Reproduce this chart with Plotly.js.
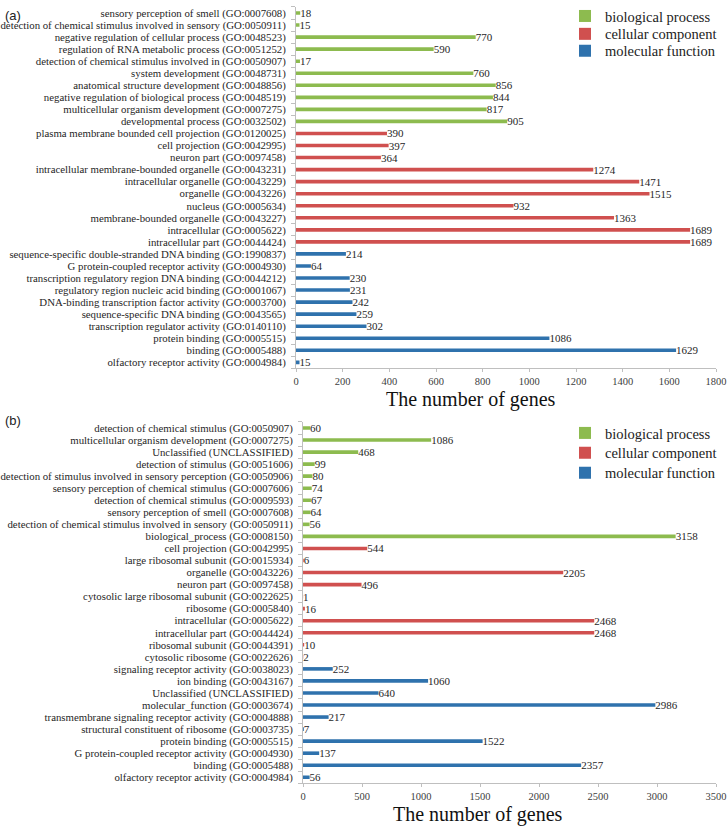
<!DOCTYPE html>
<html>
<head>
<meta charset="utf-8">
<script src="https://cdn.plot.ly/plotly-3.0.1.min.js"></script>
<style>html,body{margin:0;padding:0;background:#fff;}#chart{width:728px;height:826px;}</style>
</head>
<body>
<div id="chart"></div>
<script>
// Panel (a)
const labelsA = [
  "sensory perception of smell (GO:0007608)",
  "detection of chemical stimulus involved in sensory (GO:0050911)",
  "negative regulation of cellular process (GO:0048523)",
  "regulation of RNA metabolic process (GO:0051252)",
  "detection of chemical stimulus involved in (GO:0050907)",
  "system development (GO:0048731)",
  "anatomical structure development (GO:0048856)",
  "negative regulation of biological process (GO:0048519)",
  "multicellular organism development (GO:0007275)",
  "developmental process (GO:0032502)",
  "plasma membrane bounded cell projection (GO:0120025)",
  "cell projection (GO:0042995)",
  "neuron part (GO:0097458)",
  "intracellular membrane-bounded organelle (GO:0043231)",
  "intracellular organelle (GO:0043229)",
  "organelle (GO:0043226)",
  "nucleus (GO:0005634)",
  "membrane-bounded organelle (GO:0043227)",
  "intracellular (GO:0005622)",
  "intracellular part (GO:0044424)",
  "sequence-specific double-stranded DNA binding (GO:1990837)",
  "G protein-coupled receptor activity (GO:0004930)",
  "transcription regulatory region DNA binding (GO:0044212)",
  "regulatory region nucleic acid binding (GO:0001067)",
  "DNA-binding transcription factor activity (GO:0003700)",
  "sequence-specific DNA binding (GO:0043565)",
  "transcription regulator activity (GO:0140110)",
  "protein binding (GO:0005515)",
  "binding (GO:0005488)",
  "olfactory receptor activity (GO:0004984)"
];
const valuesA = [18,15,770,590,17,760,856,844,817,905,390,397,364,1274,1471,1515,932,1363,1689,1689,214,64,230,231,242,259,302,1086,1629,15];
const groupsA = ["bp","bp","bp","bp","bp","bp","bp","bp","bp","bp","cc","cc","cc","cc","cc","cc","cc","cc","cc","cc","mf","mf","mf","mf","mf","mf","mf","mf","mf","mf"];

// Panel (b)
const labelsB = [
  "detection of chemical stimulus (GO:0050907)",
  "multicellular organism development (GO:0007275)",
  "Unclassified (UNCLASSIFIED)",
  "detection of stimulus (GO:0051606)",
  "detection of stimulus involved in sensory perception (GO:0050906)",
  "sensory perception of chemical stimulus (GO:0007606)",
  "detection of chemical stimulus (GO:0009593)",
  "sensory perception of smell (GO:0007608)",
  "detection of chemical stimulus involved in sensory (GO:0050911)",
  "biological_process (GO:0008150)",
  "cell projection (GO:0042995)",
  "large ribosomal subunit (GO:0015934)",
  "organelle (GO:0043226)",
  "neuron part (GO:0097458)",
  "cytosolic large ribosomal subunit (GO:0022625)",
  "ribosome (GO:0005840)",
  "intracellular (GO:0005622)",
  "intracellular part (GO:0044424)",
  "ribosomal subunit (GO:0044391)",
  "cytosolic ribosome (GO:0022626)",
  "signaling receptor activity (GO:0038023)",
  "ion binding (GO:0043167)",
  "Unclassified (UNCLASSIFIED)",
  "molecular_function (GO:0003674)",
  "transmembrane signaling receptor activity (GO:0004888)",
  "structural constituent of ribosome (GO:0003735)",
  "protein binding (GO:0005515)",
  "G protein-coupled receptor activity (GO:0004930)",
  "binding (GO:0005488)",
  "olfactory receptor activity (GO:0004984)"
];
const valuesB = [60,1086,468,99,80,74,67,64,56,3158,544,6,2205,496,1,16,2468,2468,10,2,252,1060,640,2986,217,7,1522,137,2357,56];
const groupsB = ["bp","bp","bp","bp","bp","bp","bp","bp","bp","bp","cc","cc","cc","cc","cc","cc","cc","cc","cc","cc","mf","mf","mf","mf","mf","mf","mf","mf","mf","mf"];

const groupKeys = ["bp","cc","mf"];
const groupNames = {bp:"biological process", cc:"cellular component", mf:"molecular function"};
const groupColors = {bp:"#8dbb4f", cc:"#d0504f", mf:"#2f72ad"};

const serif = "Liberation Serif";
const traces = [];
function addPanel(labels, values, groups, xa, ya, legendIds){
  groupKeys.forEach((g,k)=>{
    const ys=[], xs=[];
    values.forEach((v,i)=>{ if(groups[i]===g){ ys.push(i); xs.push(v);} });
    traces.push({
      type:"bar", orientation:"h", x:xs, y:ys, xaxis:xa, yaxis:ya,
      name:groupNames[g], legend:legendIds[k], width:0.3,
      marker:{color:groupColors[g]},
      text:xs.map(String), textposition:"outside", cliponaxis:false,
      constraintext:"none",
      textfont:{family:serif, size:11, color:"#262626"},
      hoverinfo:"x+y"
    });
  });
}
addPanel(labelsA, valuesA, groupsA, "x", "y", ["legend","legend2","legend3"]);
addPanel(labelsB, valuesB, groupsB, "x2", "y2", ["legend4","legend5","legend6"]);

const H=826, W=728;
const idxA = labelsA.map((_,i)=>i);
const idxB = labelsB.map((_,i)=>i);
function yax(domain, idx, labels){
  return {
    domain: domain, range:[idx.length-0.5,-0.5], autorange:false,
    tickmode:"array", tickvals: idx, ticktext: labels,
    ticks:"", showgrid:false, zeroline:false,
    showline:true, linecolor:"#bfbfbf", linewidth:1,
    tickfont:{family:serif, size:10.8, color:"#262626"},
    ticklabelstandoff: 7,
    minor:{tick0:0.5, dtick:1, ticks:"outside", ticklen:4, tickcolor:"#bfbfbf", showgrid:false}
  };
}
function xax(domain, range, dtick, anchor){
  return {
    domain: domain, range: range, autorange:false, dtick: dtick, anchor: anchor,
    showgrid:false, zeroline:false, showline:true, linecolor:"#bfbfbf", linewidth:1,
    ticks:"outside", ticklen:3, tickcolor:"#bfbfbf",
    tickfont:{family:serif, size:10.5, color:"#404040"}
  };
}
function leg(xpx, ypx){
  return {x:xpx/W, y:1-ypx/H, xanchor:"left", yanchor:"top", bgcolor:"rgba(0,0,0,0)",
    font:{family:serif, size:14.5, color:"#222"}, itemwidth:30};
}
const layout = {
  width:W, height:H, margin:{l:0,r:0,t:0,b:0},
  font:{family:serif, color:"#262626"},
  paper_bgcolor:"#fff", plot_bgcolor:"#fff",
  showlegend:true, barmode:"overlay",
  xaxis: xax([296/W, 716/W],[0,1800],200,"y"),
  yaxis: Object.assign(yax([1-365/H, 1-1/H], idxA, labelsA), {anchor:"x"}),
  xaxis2: xax([303/W, 716/W],[0,3500],500,"y2"),
  yaxis2: Object.assign(yax([1-783/H, 1-419/H], idxB, labelsB), {anchor:"x2"}),
  legend: leg(565, -6),
  legend2: leg(565, 12),
  legend3: leg(565, 29),
  legend4: leg(565, 414),
  legend5: leg(565, 434),
  legend6: leg(565, 454),
  annotations:[
    {text:"(a)", xref:"paper", yref:"paper", x:3/W, y:1, xanchor:"left", yanchor:"top", showarrow:false,
      font:{family:"Liberation Sans", size:13, color:"#222"}},
    {text:"(b)", xref:"paper", yref:"paper", x:3/W, y:1-408/H, xanchor:"left", yanchor:"top", showarrow:false,
      font:{family:"Liberation Sans", size:13, color:"#222"}},
    {text:"The number of genes", xref:"paper", yref:"paper", x:471/W, y:1-396/H, xanchor:"center", yanchor:"middle", showarrow:false,
      font:{family:serif, size:20, color:"#111"}},
    {text:"The number of genes", xref:"paper", yref:"paper", x:478/W, y:1-814/H, xanchor:"center", yanchor:"middle", showarrow:false,
      font:{family:serif, size:20, color:"#111"}}
  ]
};
Plotly.newPlot("chart", traces, layout, {displayModeBar:false, staticPlot:true});
</script>
</body>
</html>
